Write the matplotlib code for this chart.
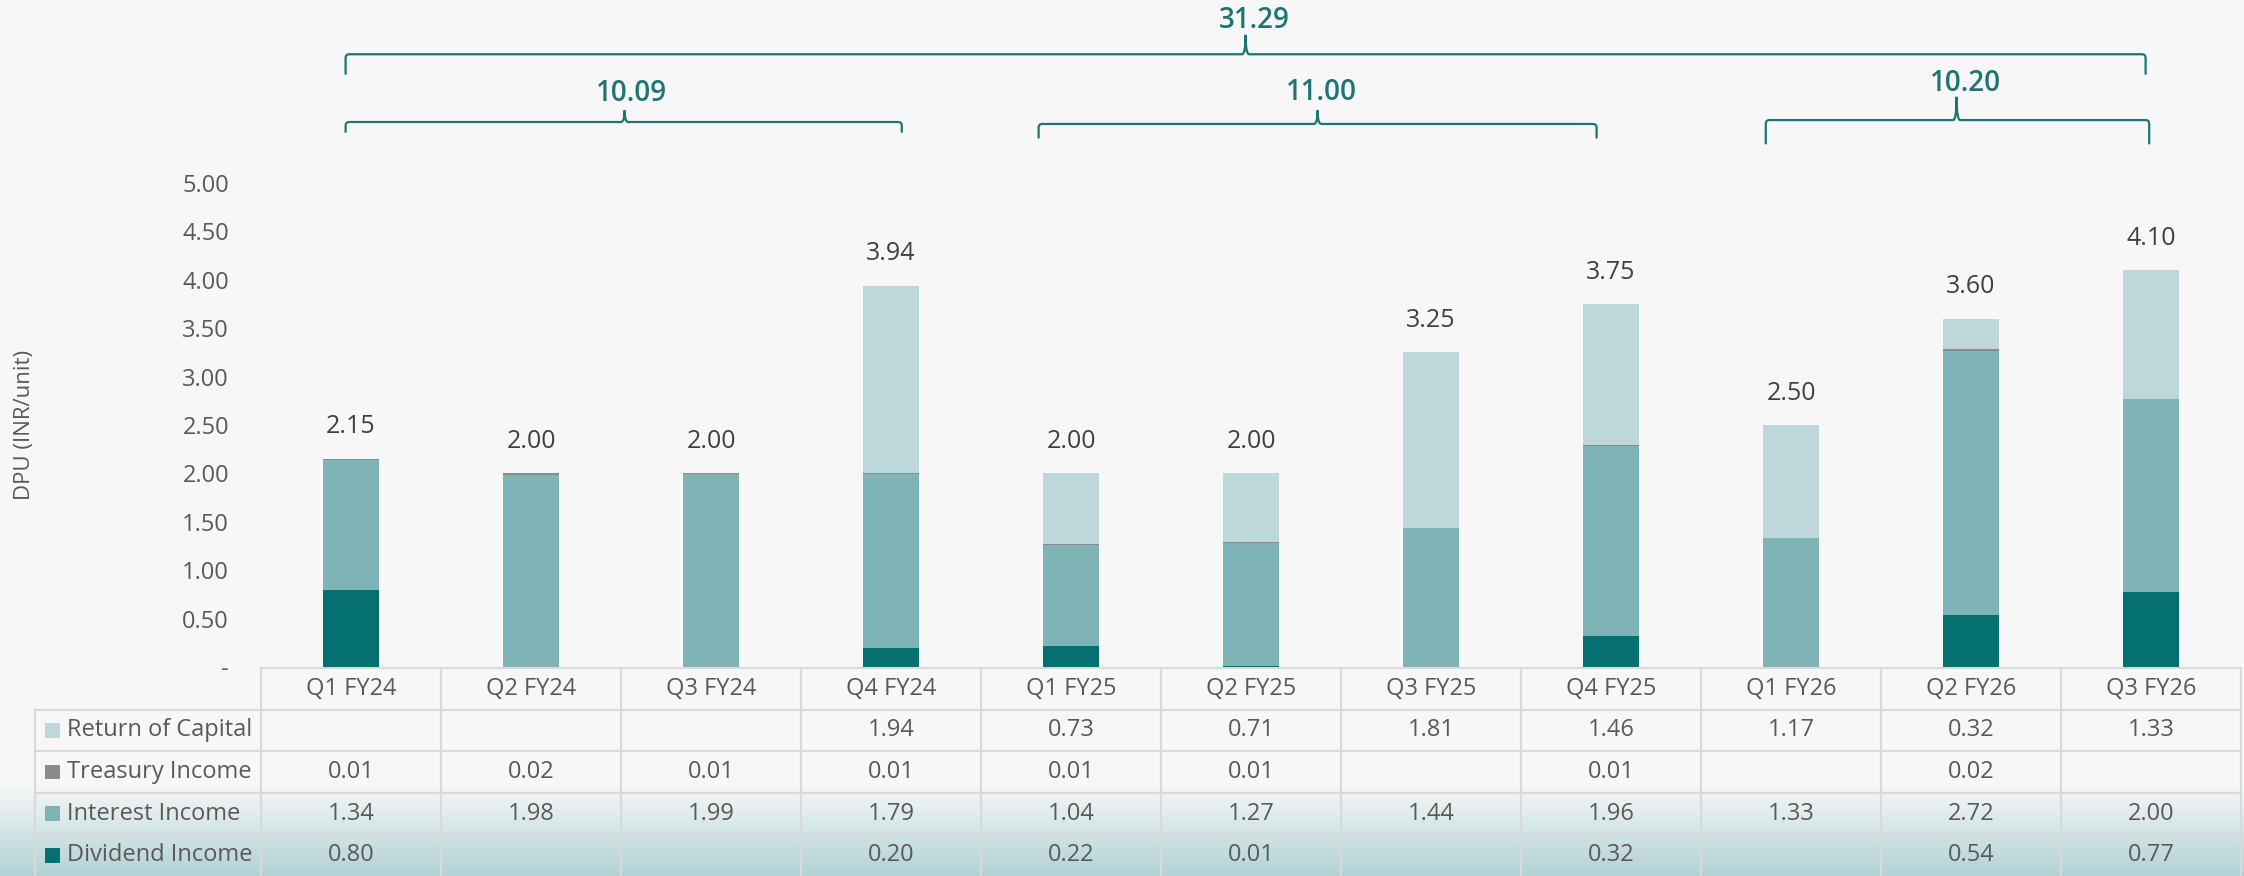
import numpy as np
import matplotlib
matplotlib.use("Agg")
import matplotlib.pyplot as plt
from matplotlib.path import Path
from matplotlib.patches import PathPatch, Rectangle
from matplotlib.ticker import FuncFormatter

plt.rcParams['font.family'] = ['Open Sans', 'DejaVu Sans']

quarters = ['Q1 FY24', 'Q2 FY24', 'Q3 FY24', 'Q4 FY24', 'Q1 FY25', 'Q2 FY25',
            'Q3 FY25', 'Q4 FY25', 'Q1 FY26', 'Q2 FY26', 'Q3 FY26']
dividend = [0.80, 0, 0, 0.20, 0.22, 0.01, 0, 0.32, 0, 0.54, 0.77]
interest = [1.34, 1.98, 1.99, 1.79, 1.04, 1.27, 1.44, 1.96, 1.33, 2.72, 2.00]
treasury = [0.01, 0.02, 0.01, 0.01, 0.01, 0.01, 0, 0.01, 0, 0.02, 0]
capital = [0, 0, 0, 1.94, 0.73, 0.71, 1.81, 1.46, 1.17, 0.32, 1.33]

# fiscal-year groups (quarter index ranges) for the braces
fy_groups = [(0, 4), (4, 8), (8, 11)]

series = [('Dividend Income', dividend, '#057070'),
          ('Interest Income', interest, '#7fb4b6'),
          ('Treasury Income', treasury, '#8a8a8a'),
          ('Return of Capital', capital, '#bdd7da')]

BG = '#f7f7f7'
TXT = '#595959'
TEAL = '#1e7474'

W, H = 2244, 876
fig = plt.figure(figsize=(W / 100, H / 100), dpi=100, facecolor=BG)

# gradient band behind the lower table rows
gax = fig.add_axes([0, 0, 1, 91 / H], zorder=0)
grad = np.linspace(0, 1, 256)[:, None]
top_c = np.array(matplotlib.colors.to_rgb(BG))
bot_c = np.array(matplotlib.colors.to_rgb('#b2d2d5'))
img = top_c[None, None, :] * (1 - grad[..., None]) + bot_c[None, None, :] * grad[..., None]
gax.imshow(img, aspect='auto', extent=[0, 1, 0, 1])
gax.axis('off')

# main bar chart
ax = fig.add_axes([261 / W, 209 / H, 1980 / W, 667 / H], zorder=2)
ax.patch.set_visible(False)
x = np.arange(len(quarters))
bottom = np.zeros(len(quarters))
for name, vals, col in series:
    vals = np.array(vals)
    ax.bar(x, vals, 0.31, bottom=bottom, color=col, label=name, zorder=2)
    bottom += vals
totals = bottom

for xi, t in zip(x, totals):
    ax.text(xi, t + 0.33, f'{t:.2f}', ha='center', va='center', fontsize=18, color='#404040')

ax.set_xlim(-0.5, len(quarters) - 0.5)
ax.set_ylim(0, 667 / 96.8)
ax.set_yticks(np.arange(0, 5.01, 0.5))
ax.yaxis.set_major_formatter(FuncFormatter(lambda v, p: '-' if v == 0 else f'{v:.2f}'))
ax.tick_params(axis='y', length=0, pad=23, labelsize=17, labelcolor=TXT)
ax.set_xticks([])
for s in ax.spines.values():
    s.set_visible(False)
fig.text(25 / W, 1 - 425 / H, 'DPU (INR/unit)', rotation=90, ha='center', va='center',
         fontsize=16, color=TXT)


def brace(x0, x1, xm, y, hook, peak, label, ly, lx=None, rx=0.02, ry=0.04):
    verts = [(x0, y - hook), (x0, y - ry), (x0, y), (x0 + rx, y),
             (xm - rx, y), (xm, y), (xm, y + peak), (xm, y), (xm + rx, y),
             (x1 - rx, y), (x1, y), (x1, y - ry), (x1, y - hook)]
    codes = [Path.MOVETO, Path.LINETO, Path.CURVE3, Path.CURVE3,
             Path.LINETO, Path.CURVE3, Path.CURVE3, Path.CURVE3, Path.CURVE3,
             Path.LINETO, Path.CURVE3, Path.CURVE3, Path.LINETO]
    ax.add_patch(PathPatch(Path(verts, codes), fill=False, edgecolor=TEAL, lw=1.6,
                           clip_on=False, zorder=3))
    ax.text(xm if lx is None else lx, ly, label, ha='center', va='center', fontsize=20,
            fontweight='semibold', color=TEAL)


fy_totals = [sum(totals[a:b]) for a, b in fy_groups]
brace(-0.03, 3.06, 1.52, 5.63, 0.11, 0.12, f'{fy_totals[0]:.2f}', 5.92, 1.56)
brace(3.82, 6.92, 5.37, 5.61, 0.15, 0.14, f'{fy_totals[1]:.2f}', 5.93, 5.39)
brace(7.86, 9.99, 8.92, 5.65, 0.25, 0.24, f'{fy_totals[2]:.2f}', 6.03, 8.97)
brace(-0.03, 9.97, 4.97, 6.33, 0.21, 0.20, f'{sum(fy_totals):.2f}', 6.68, 5.02)

# data table under the bars
tax = fig.add_axes([261 / W, 0, 1980 / W, 208 / H], zorder=1)
tax.patch.set_visible(False)
tax.set_xlim(-0.5, len(quarters) - 0.5)
tax.set_ylim(5, 0)
tax.axis('off')
LINE = '#d9d9d9'
lab_left = (35 - 351) / 180
n = len(quarters)
tax.plot([-0.5, n - 0.5], [0, 0], color=LINE, lw=1.5, clip_on=False)
for r in range(1, 5):
    tax.plot([lab_left, n - 0.5], [r, r], color=LINE, lw=1.5, clip_on=False)
for k in range(n + 1):
    tax.plot([k - 0.5, k - 0.5], [0, 5], color=LINE, lw=1.5, clip_on=False)
tax.plot([lab_left, lab_left], [1, 5], color=LINE, lw=1.5, clip_on=False)

for i, q in enumerate(quarters):
    tax.text(i, 0.5, q, ha='center', va='center', fontsize=17, color=TXT)

for r, (name, vals, col) in enumerate(reversed(series), start=1):
    tax.add_patch(Rectangle(((45 - 351) / 180, r + 0.5 - 0.18), 15 / 180, 0.36,
                            facecolor=col, edgecolor='none', clip_on=False))
    tax.text((67 - 351) / 180, r + 0.5, name, ha='left', va='center', fontsize=17,
             color=TXT, clip_on=False)
    for i, v in enumerate(vals):
        if v:
            tax.text(i, r + 0.5, f'{v:.2f}', ha='center', va='center', fontsize=17, color=TXT)

fig.savefig('out.png', dpi=100, facecolor=BG)
